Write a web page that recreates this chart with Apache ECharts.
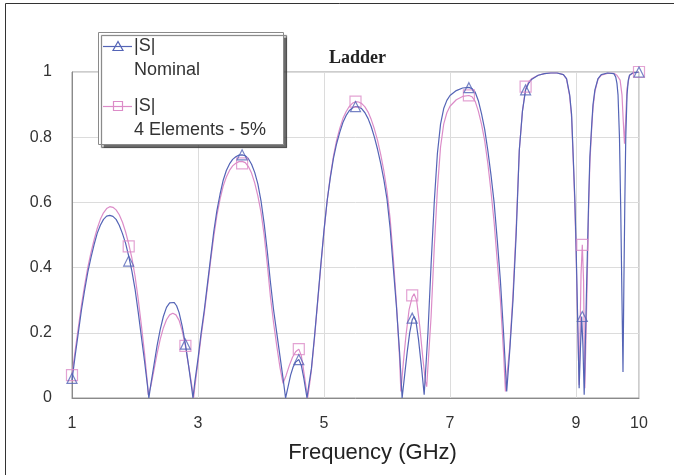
<!DOCTYPE html>
<html>
<head>
<meta charset="utf-8">
<script src="https://cdn.jsdelivr.net/npm/echarts@6/dist/echarts.min.js"></script>
<style>
html,body{margin:0;padding:0;background:#fff;}
#chart{width:674px;height:475px;}
</style>
</head>
<body>
<div id="chart"></div>
<script>
// ---- Data ----
const chartTitle = 'Ladder';
const xAxisTitle = 'Frequency (GHz)';
const seriesNames = ['|S|\nNominal', '|S|\n4 Elements - 5%'];

// Nominal |S| curve
const nomFreq = [1.0,1.05,1.1,1.15,1.2,1.25,1.3,1.35,1.4,1.45,1.5,1.55,1.6,1.65,1.7,1.75,1.8,1.85,1.9,1.95,2.0,2.05,2.1,2.15,2.2,2.22,
  2.25,2.3,2.35,2.4,2.45,2.5,2.55,2.58,2.62,2.66,2.7,2.75,2.8,2.85,2.9,2.92,
  2.95,3.0,3.05,3.1,3.15,3.2,3.25,3.3,3.35,3.4,3.45,3.5,3.55,3.6,3.65,3.7,3.75,3.8,3.85,3.9,3.95,4.0,4.05,4.1,4.15,4.2,4.25,4.3,4.35,4.39,
  4.43,4.47,4.51,4.55,4.6,4.64,4.68,4.73,
  4.76,4.8,4.85,4.9,4.95,5.0,5.05,5.1,5.15,5.2,5.25,5.3,5.35,5.4,5.45,5.5,5.55,5.6,5.65,5.7,5.75,5.8,5.85,5.9,5.95,6.0,6.05,6.1,6.15,6.2,6.24,
  6.28,6.32,6.36,6.4,6.43,6.46,6.5,6.55,6.59,
  6.65,6.7,6.75,6.8,6.85,6.9,6.95,7.0,7.1,7.2,7.3,7.35,7.4,7.45,7.5,7.55,7.6,7.65,7.7,7.75,7.8,7.85,7.9,
  7.95,8.0,8.05,8.1,8.15,8.2,8.25,8.3,8.4,8.5,8.6,8.7,8.8,8.85,8.9,8.93,8.96,8.98,9.0,9.02,9.05,
  9.07,9.09,9.11,9.13,9.15,9.17,9.2,9.22,9.25,9.27,9.3,9.35,9.4,9.5,9.6,9.63,9.65,9.667,9.69,9.71,9.73,9.746,
  9.76,9.775,9.79,9.81,9.83,9.85,9.9,10.0];
const nomMag = [0.055,0.13,0.2,0.27,0.33,0.385,0.43,0.47,0.505,0.53,0.548,0.558,0.56,0.557,0.548,0.53,0.505,0.475,0.435,0.39,0.335,0.265,0.19,0.115,0.035,0.0,
  0.04,0.1,0.16,0.21,0.25,0.278,0.292,0.295,0.293,0.283,0.262,0.22,0.165,0.1,0.03,0.0,
  0.05,0.12,0.2,0.27,0.35,0.43,0.51,0.575,0.625,0.668,0.698,0.718,0.732,0.74,0.745,0.746,0.743,0.734,0.717,0.692,0.657,0.605,0.535,0.45,0.355,0.27,0.2,0.13,0.06,0.0,
  0.035,0.07,0.095,0.11,0.118,0.1,0.06,0.0,
  0.04,0.09,0.19,0.3,0.41,0.515,0.605,0.675,0.735,0.78,0.815,0.845,0.866,0.881,0.89,0.894,0.893,0.887,0.875,0.857,0.832,0.8,0.763,0.72,0.67,0.61,0.52,0.4,0.28,0.14,0.0,
  0.07,0.14,0.2,0.24,0.25,0.235,0.18,0.09,0.01,
  0.2,0.41,0.6,0.75,0.84,0.888,0.913,0.928,0.943,0.951,0.953,0.949,0.938,0.912,0.872,0.825,0.76,0.685,0.6,0.485,0.36,0.2,0.02,
  0.15,0.3,0.5,0.76,0.88,0.945,0.966,0.978,0.99,0.995,0.997,0.997,0.992,0.98,0.93,0.87,0.72,0.62,0.48,0.3,0.03,
  0.15,0.25,0.16,0.01,0.18,0.36,0.6,0.74,0.84,0.9,0.945,0.98,0.992,0.997,0.995,0.985,0.965,0.93,0.8,0.58,0.3,0.08,
  0.35,0.6,0.8,0.93,0.975,0.99,0.997,1.0];

// 4 Elements - 5% |S| curve
const devFreq = [1.0,1.05,1.1,1.15,1.2,1.25,1.3,1.35,1.4,1.45,1.5,1.55,1.6,1.65,1.7,1.75,1.8,1.85,1.9,1.95,2.0,2.05,2.1,2.15,2.2,2.21,
  2.25,2.3,2.35,2.4,2.45,2.5,2.55,2.6,2.65,2.7,2.75,2.8,2.85,2.9,2.93,
  2.95,3.0,3.05,3.1,3.15,3.2,3.25,3.3,3.35,3.4,3.45,3.5,3.55,3.6,3.65,3.7,3.75,3.8,3.85,3.9,3.95,4.0,4.05,4.1,4.15,4.2,4.25,4.3,4.35,
  4.4,4.45,4.5,4.55,4.6,4.64,4.68,4.74,
  4.77,4.8,4.85,4.9,4.95,5.0,5.05,5.1,5.15,5.2,5.25,5.3,5.35,5.4,5.45,5.5,5.55,5.6,5.65,5.7,5.75,5.8,5.85,5.9,5.95,6.0,6.05,6.1,6.15,6.2,6.22,
  6.26,6.3,6.35,6.4,6.43,6.47,6.52,6.57,6.61,6.63,
  6.7,6.75,6.8,6.85,6.9,6.95,7.0,7.1,7.2,7.3,7.35,7.4,7.45,7.5,7.55,7.6,7.65,7.7,7.75,7.8,7.85,7.88,
  7.95,8.0,8.05,8.1,8.15,8.2,8.25,8.3,8.4,8.5,8.6,8.7,8.8,8.85,8.9,8.93,8.96,8.98,9.0,9.02,9.05,
  9.08,9.1,9.12,9.14,9.16,9.18,9.2,9.22,9.25,9.27,9.3,9.35,9.4,9.5,9.6,9.65,9.7,9.73,9.75,9.77,9.79,9.81,9.85,9.9,10.0];
const devMag = [0.07,0.145,0.215,0.285,0.345,0.4,0.445,0.485,0.52,0.548,0.568,0.581,0.587,0.585,0.577,0.562,0.54,0.51,0.473,0.43,0.375,0.305,0.225,0.14,0.04,0.01,
  0.035,0.085,0.135,0.18,0.215,0.24,0.255,0.26,0.255,0.238,0.205,0.16,0.1,0.04,0.0,
  0.035,0.11,0.19,0.26,0.34,0.42,0.495,0.56,0.61,0.65,0.678,0.698,0.712,0.72,0.725,0.726,0.722,0.71,0.69,0.66,0.62,0.57,0.5,0.41,0.31,0.23,0.16,0.095,0.045,
  0.07,0.1,0.125,0.142,0.15,0.13,0.08,0.0,
  0.04,0.085,0.185,0.295,0.405,0.51,0.605,0.68,0.742,0.79,0.827,0.857,0.878,0.894,0.904,0.909,0.908,0.903,0.893,0.877,0.854,0.825,0.79,0.747,0.697,0.635,0.55,0.43,0.29,0.12,0.02,
  0.11,0.19,0.27,0.31,0.32,0.3,0.22,0.12,0.05,0.035,
  0.25,0.46,0.64,0.77,0.84,0.875,0.895,0.915,0.925,0.928,0.924,0.91,0.88,0.84,0.79,0.72,0.635,0.54,0.42,0.3,0.14,0.02,
  0.16,0.32,0.52,0.76,0.88,0.95,0.97,0.98,0.99,0.995,0.997,0.997,0.992,0.978,0.925,0.86,0.71,0.6,0.46,0.28,0.04,
  0.38,0.47,0.36,0.03,0.2,0.38,0.58,0.72,0.83,0.89,0.94,0.978,0.99,0.996,0.996,0.99,0.975,0.93,0.85,0.78,0.86,0.95,0.99,0.997,1.0];

// Marker positions (every 0.9 GHz)
const markFreq = [1.0,1.9,2.8,3.7,4.6,5.5,6.4,7.3,8.2,9.1,10.0];
const nomMarks = [0.06,0.42,0.165,0.746,0.118,0.894,0.245,0.952,0.945,0.25,1.0];
const devMarks = [0.07,0.465,0.16,0.72,0.15,0.909,0.315,0.928,0.955,0.47,1.0];

// ---- Styling ----
const BLUE = '#5464b6';
const PINK = '#dc8cc8';
const FONT = '"Liberation Sans", Arial, sans-serif';

function pairs(xs, ys){ return xs.map((x,i)=>[x, ys[i]]); }

const chart = echarts.init(document.getElementById('chart'), null, {renderer:'canvas'});

const legendZ = 100;
chart.setOption({
  backgroundColor: '#ffffff',
  animation: false,
  title: {
    text: chartTitle,
    left: 324, top: 44,
    textStyle: { fontFamily: '"Liberation Serif", "Times New Roman", serif', fontWeight: 'bold', fontSize: 18, color: '#222' }
  },
  grid: { left: 72, right: 35, top: 72, bottom: 77, show: true, borderColor: '#9a9a9a', borderWidth: 1, containLabel: false },
  xAxis: {
    type: 'value', min: 1, max: 10, interval: 2,
    axisLine: { show: true, lineStyle: { color: '#8a8a8a', width: 1 } },
    axisTick: { show: false },
    axisLabel: { fontFamily: FONT, fontSize: 16, color: '#333', margin: 18, showMaxLabel: true, showMinLabel: true },
    splitLine: { show: true, lineStyle: { color: '#dcdcdc', width: 1 } },
    name: xAxisTitle, nameLocation: 'middle', nameGap: 44,
    nameTextStyle: { fontFamily: FONT, fontSize: 22, color: '#222', padding: [0, 0, 0, 34] }
  },
  yAxis: {
    type: 'value', min: 0, max: 1, interval: 0.2,
    axisLine: { show: true, lineStyle: { color: '#8a8a8a', width: 1 } },
    axisTick: { show: false },
    axisLabel: { fontFamily: FONT, fontSize: 16, color: '#333', margin: 20 },
    splitLine: { show: true, lineStyle: { color: '#dcdcdc', width: 1 } }
  },
  series: [
    { name: seriesNames[1], type: 'line', data: pairs(devFreq, devMag), symbol: 'none',
      lineStyle: { color: PINK, width: 1.2 }, z: 2 },
    { name: seriesNames[0], type: 'line', data: pairs(nomFreq, nomMag), symbol: 'none',
      lineStyle: { color: BLUE, width: 1.2 }, z: 3 },
    { name: seriesNames[1] + ' markers', type: 'scatter', data: pairs(markFreq, devMarks), symbol: 'rect', symbolSize: 11,
      itemStyle: { color: 'rgba(255,255,255,0)', borderColor: PINK, borderWidth: 1.2 }, z: 4 },
    { name: seriesNames[0] + ' markers', type: 'scatter', data: pairs(markFreq, nomMarks), symbol: 'triangle', symbolSize: 10,
      itemStyle: { color: 'rgba(255,255,255,0)', borderColor: BLUE, borderWidth: 1.2 }, z: 5 }
  ],
  graphic: [
    // outer frame (left and top edges visible in the reference)
    { type: 'line', shape: { x1: 5.5, y1: 3.5, x2: 5.5, y2: 475 }, style: { stroke: '#333', lineWidth: 1 }, z: 1, silent: true },
    { type: 'line', shape: { x1: 5.5, y1: 3.5, x2: 674, y2: 3.5 }, style: { stroke: '#333', lineWidth: 1 }, z: 1, silent: true },
    // legend box
    { type: 'rect', shape: { x: 98.5, y: 32.5, width: 185, height: 112 },
      style: { fill: '#fff', stroke: '#8a8a8a', lineWidth: 1, shadowColor: 'rgba(60,60,60,0.75)', shadowOffsetX: 3, shadowOffsetY: 3, shadowBlur: 1 },
      z: legendZ },
    { type: 'line', shape: { x1: 103, y1: 46.5, x2: 132, y2: 46.5 }, style: { stroke: BLUE, lineWidth: 1.2 }, z: legendZ + 1 },
    { type: 'polygon', shape: { points: [[118, 41.5], [113, 50.5], [123, 50.5]] }, style: { fill: 'none', stroke: BLUE, lineWidth: 1.2 }, z: legendZ + 1 },
    { type: 'text', x: 134, y: 46, style: { text: '|S|', font: '18px ' + FONT, fill: '#333', verticalAlign: 'middle' }, z: legendZ + 1 },
    { type: 'text', x: 134, y: 70, style: { text: 'Nominal', font: '18px ' + FONT, fill: '#333', verticalAlign: 'middle' }, z: legendZ + 1 },
    { type: 'line', shape: { x1: 103, y1: 106.5, x2: 132, y2: 106.5 }, style: { stroke: PINK, lineWidth: 1.2 }, z: legendZ + 1 },
    { type: 'rect', shape: { x: 113.5, y: 101.5, width: 9, height: 9 }, style: { fill: 'none', stroke: PINK, lineWidth: 1.2 }, z: legendZ + 1 },
    { type: 'text', x: 134, y: 106, style: { text: '|S|', font: '18px ' + FONT, fill: '#333', verticalAlign: 'middle' }, z: legendZ + 1 },
    { type: 'text', x: 134, y: 130, style: { text: '4 Elements - 5%', font: '18px ' + FONT, fill: '#333', verticalAlign: 'middle' }, z: legendZ + 1 }
  ]
});
</script>
</body>
</html>
